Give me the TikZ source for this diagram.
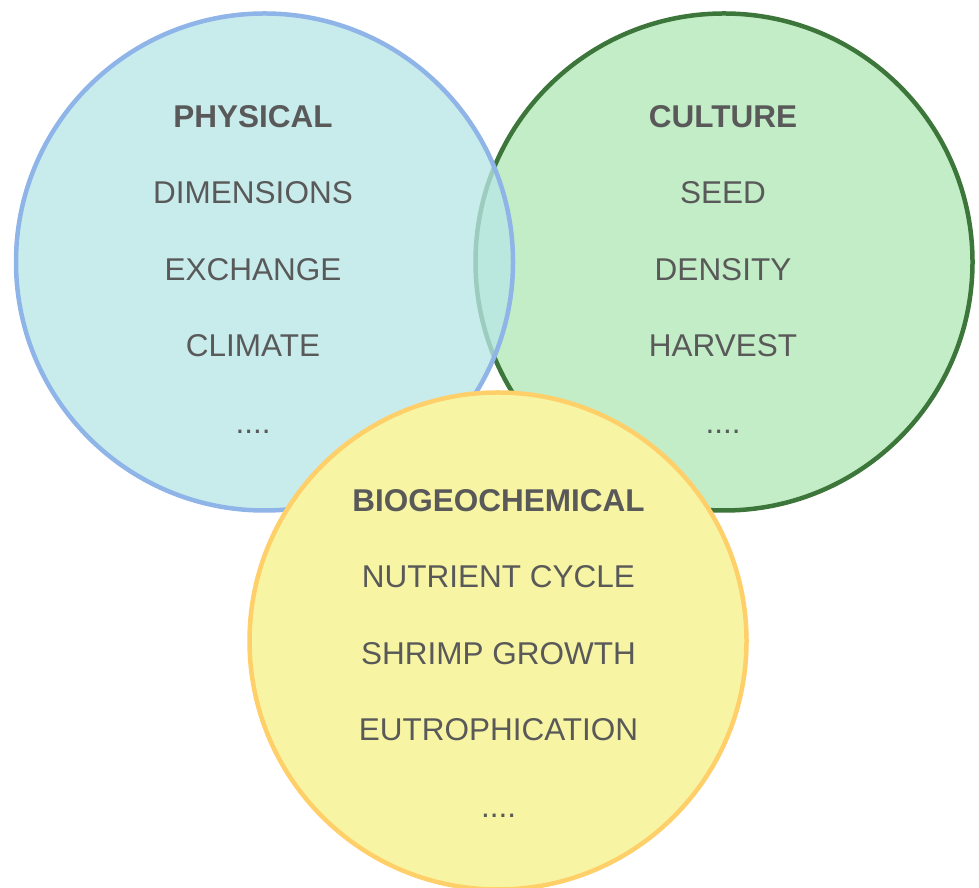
\documentclass[tikz,border=0pt]{standalone}
\usepackage{fontspec}
\setmainfont{Liberation Sans}
\definecolor{bfill}{RGB}{184,230,230}
\definecolor{bdraw}{RGB}{142,180,232}
\definecolor{gfill}{RGB}{194,237,199}
\definecolor{gdraw}{RGB}{61,118,58}
\definecolor{yfill}{RGB}{247,245,163}
\definecolor{ydraw}{RGB}{255,207,106}
\definecolor{txt}{RGB}{89,89,89}
\tikzset{
  setcircle/.style={circle, inner sep=0pt, minimum size=497pt, line width=4.5pt},
  itemtxt/.style={anchor=base, text=txt, font=\fontsize{31.5}{36}\selectfont},
  headtxt/.style={itemtxt, font=\fontsize{31.5}{36}\selectfont\bfseries}
}
\begin{document}
\begin{tikzpicture}[x=1pt,y=1pt]
\useasboundingbox (0,0) rectangle (979,888);
\clip (0,0) rectangle (979,888);
% circles (y = 888 - image y)
\node[setcircle, draw=gdraw, fill=gfill] (cult) at (724,626) {};
\node[setcircle, draw=bdraw, fill=bfill, fill opacity=0.77] (phys) at (264.5,626) {};
\node[setcircle, draw=ydraw, fill=yfill] (bio) at (498,247) {};
% physical
\node[headtxt] (p0) at (253,760) {PHYSICAL};
\node[itemtxt] (p1) at (253,684) {DIMENSIONS};
\node[itemtxt] (p2) at (253,607) {EXCHANGE};
\node[itemtxt] (p3) at (253,531) {CLIMATE};
\node[itemtxt] (p4) at (253,454) {....};
% culture
\node[headtxt] (c0) at (723,760) {CULTURE};
\node[itemtxt] (c1) at (723,684) {SEED};
\node[itemtxt] (c2) at (723,607) {DENSITY};
\node[itemtxt] (c3) at (723,531) {HARVEST};
\node[itemtxt] (c4) at (723,454) {....};
% biogeochemical
\node[headtxt] (b0) at (498.5,376) {BIOGEOCHEMICAL};
\node[itemtxt] (b1) at (498.5,300) {NUTRIENT CYCLE};
\node[itemtxt] (b2) at (498.5,223) {SHRIMP GROWTH};
\node[itemtxt] (b3) at (498.5,147) {EUTROPHICATION};
\node[itemtxt] (b4) at (498.5,70) {....};
\end{tikzpicture}
\end{document}
